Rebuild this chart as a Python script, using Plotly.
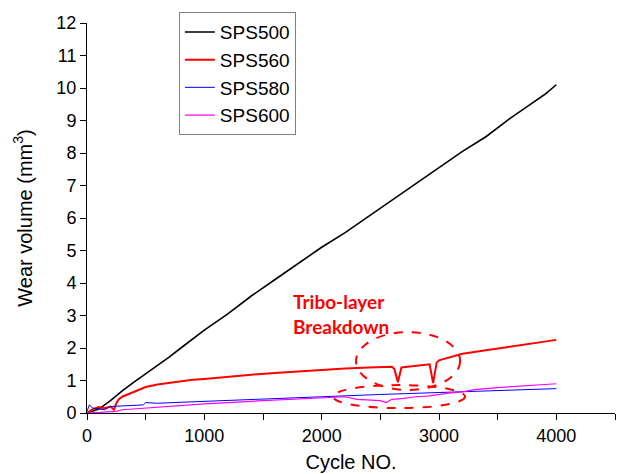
import plotly.graph_objects as go

# ---- data ----
cyc_500 = [0, 100, 200, 300, 400, 500, 600, 700, 800, 900, 1000, 1200, 1400, 1600, 1800, 2000,
           2200, 2400, 2600, 2800, 3000, 3200, 3400, 3600, 3800, 3900, 4000]
sps500 = [0.0, 0.12, 0.38, 0.68, 0.95, 1.2, 1.45, 1.72, 2.0, 2.28, 2.55, 3.05, 3.6, 4.1, 4.6, 5.1,
          5.55, 6.05, 6.55, 7.05, 7.55, 8.05, 8.5, 9.05, 9.55, 9.8, 10.1]

cyc_560 = [0, 50, 100, 150, 200, 230, 250, 270, 300, 350, 400, 500, 600, 700, 800, 900, 1000,
           1200, 1400, 1600, 1800, 2000, 2200, 2400, 2600, 2620, 2650, 2680, 2800, 2920, 2950,
           2980, 3000, 3200, 3400, 3600, 3800, 4000]
sps560 = [0.0, 0.12, 0.18, 0.15, 0.2, 0.1, 0.3, 0.42, 0.5, 0.58, 0.65, 0.8, 0.88, 0.93, 0.98, 1.02, 1.05,
          1.12, 1.18, 1.23, 1.28, 1.33, 1.37, 1.4, 1.42, 1.35, 0.95, 1.4, 1.46, 1.5, 0.92,
          1.55, 1.62, 1.82, 1.93, 2.03, 2.14, 2.25]

cyc_580 = [0, 20, 50, 100, 150, 200, 300, 400, 480, 500, 600, 800, 1000, 1500, 2000, 2500, 3000,
           3500, 4000]
sps580 = [0.05, 0.25, 0.15, 0.12, 0.1, 0.2, 0.22, 0.25, 0.25, 0.32, 0.3, 0.33, 0.36, 0.43, 0.5,
          0.57, 0.63, 0.7, 0.75]

cyc_600 = [0, 100, 200, 250, 300, 500, 1000, 1500, 2000, 2200, 2300, 2400, 2500, 2550, 2600,
           2700, 2800, 2900, 3000, 3100, 3200, 3300, 3500, 3800, 4000]
sps600 = [0.0, 0.02, 0.03, 0.05, 0.1, 0.15, 0.28, 0.38, 0.48, 0.5, 0.42, 0.4, 0.38, 0.32, 0.42,
          0.45, 0.5, 0.52, 0.58, 0.62, 0.65, 0.72, 0.78, 0.85, 0.9]

names = ["SPS500", "SPS560", "SPS580", "SPS600"]
colors = ["#000000", "#ff0000", "#0000ff", "#ff00ff"]
widths = [1.6, 2.0, 1.0, 1.2]

FONT = "Liberation Sans, Arial, sans-serif"

fig = go.Figure()
for xs, ys, n, c, w in zip([cyc_500, cyc_560, cyc_580, cyc_600],
                           [sps500, sps560, sps580, sps600], names, colors, widths):
    fig.add_trace(go.Scatter(x=xs, y=ys, mode="lines", name=n,
                             line=dict(color=c, width=w)))

fig.update_layout(
    width=617, height=474,
    margin=dict(l=87, r=2, t=23, b=61),
    paper_bgcolor="white", plot_bgcolor="white",
    font=dict(family=FONT, size=18, color="black"),
    showlegend=True,
    legend=dict(x=0.174, y=1.028, xanchor="left", yanchor="top",
                bordercolor="#808080", borderwidth=1, bgcolor="white",
                font=dict(family=FONT, size=19), tracegroupgap=0),
    xaxis=dict(range=[0, 4500], tickmode="linear", tick0=0, dtick=1000,
               ticks="outside", ticklen=6, tickcolor="black",
               minor=dict(dtick=500, tick0=0, ticks="outside", ticklen=6, tickcolor="black",
                          showgrid=False),
               showline=True, linecolor="black", linewidth=1,
               showgrid=False, zeroline=False,
               title=dict(text="Cycle NO.", font=dict(size=20), standoff=10)),
    yaxis=dict(range=[0, 12], tickmode="linear", tick0=0, dtick=1,
               ticks="outside", ticklen=6, tickcolor="black",
               showline=True, linecolor="black", linewidth=1,
               showgrid=False, zeroline=False,
               title=dict(text="Wear volume (mm<sup>3</sup>)", font=dict(size=20), standoff=18)),
)

ann_font = dict(family="Lato, sans-serif", size=19, color="#ff0000", weight="bold")
fig.add_annotation(x=1739, y=3.42, xref="x", yref="y", text="<b>Tribo-layer</b>",
                   showarrow=False, xanchor="left", yanchor="middle", font=ann_font)
fig.add_annotation(x=1739, y=2.65, xref="x", yref="y", text="<b>Breakdown</b>",
                   showarrow=False, xanchor="left", yanchor="middle", font=ann_font)

fig.add_shape(type="circle", xref="x", yref="y", x0=2293, x1=3180, y0=0.71, y1=2.49,
              line=dict(color="#ff0000", width=2, dash="dash"))
fig.add_shape(type="circle", xref="x", yref="y", x0=2097, x1=3222, y0=0.15, y1=0.86,
              line=dict(color="#ff0000", width=2, dash="dash"))

fig.write_html("out.html")
